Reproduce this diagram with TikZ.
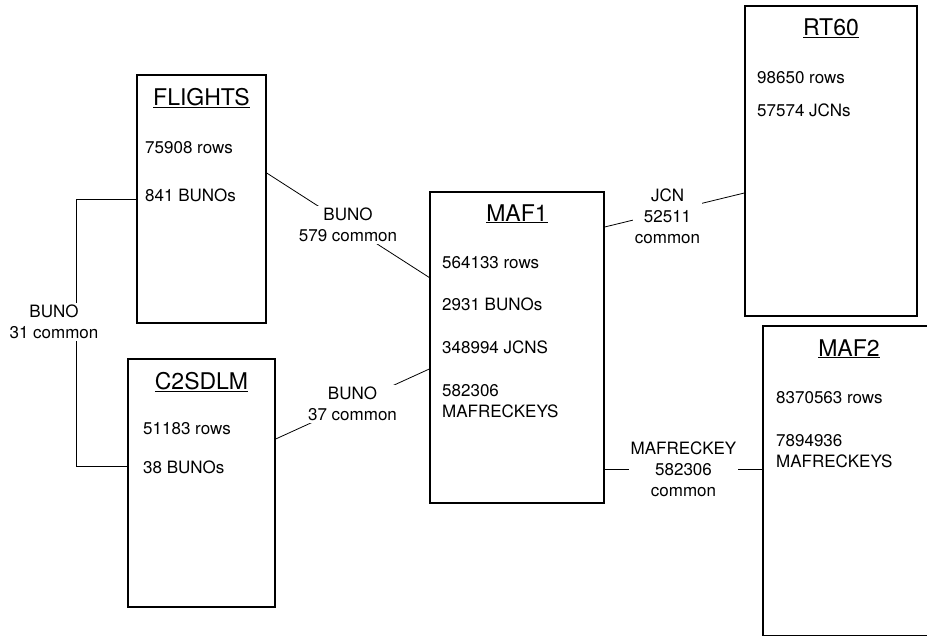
\documentclass[tikz,border=0pt]{standalone}
\usepackage{fontspec}
\setmainfont{TeX Gyre Heros}
\usetikzlibrary{positioning}

\begin{document}
\begin{tikzpicture}[
  x=1pt, y=-1pt,
  tbl/.style={draw, line width=1.4pt, inner sep=0pt, minimum width=#1},
  ttl/.style={font=\fontsize{23}{27}\selectfont, inner sep=0pt},
  txt/.style={font=\fontsize{17}{21}\selectfont, inner sep=0pt, anchor=base west},
  lbl/.style={font=\fontsize{17}{21}\selectfont, fill=white, align=center, inner sep=2pt},
  link/.style={line width=0.8pt}
]
\useasboundingbox (0,0) rectangle (927,635);
\clip (0,0) rectangle (927,635);
% tables
\node[tbl=129pt, minimum height=248pt] (flights) at (201.5,199) {};
\node[tbl=147pt, minimum height=248pt] (c2sdlm) at (201.5,483) {};
\node[tbl=174pt, minimum height=311pt] (maf1) at (517,347.5) {};
\node[tbl=172pt, minimum height=310pt] (rt60) at (831,161) {};
\node[tbl=200pt, minimum height=310pt] (maf2) at (863,481) {};
% titles
\node[ttl, below=14pt of flights.north] (flightsT) {\underline{FLIGHTS}};
\node[ttl, below=14pt of c2sdlm.north] (c2sdlmT) {\underline{C2SDLM}};
\node[ttl, below=13pt of maf1.north] (maf1T) {\underline{MAF1}};
\node[ttl, below=13pt of rt60.north] (rt60T) {\underline{RT60}};
\node[ttl, below=14pt of maf2.north, xshift=-14pt] (maf2T) {\underline{MAF2}};
% contents
\node[txt] (flightsR) at (145,153) {75908 rows};
\node[txt] (flightsB) at (145,201) {841 BUNOs};
\node[txt] (c2sdlmR) at (143,434) {51183 rows};
\node[txt] (c2sdlmB) at (143,473) {38 BUNOs};
\node[txt] (maf1R) at (442,268) {564133 rows};
\node[txt] (maf1B) at (442,310) {2931 BUNOs};
\node[txt] (maf1J) at (442,353) {348994 JCNS};
\node[txt] (maf1K) at (442,396) {582306};
\node[txt] (maf1Ks) at (442,417) {MAFRECKEYS};
\node[txt] (rt60R) at (757,83) {98650 rows};
\node[txt] (rt60J) at (757,116) {57574 JCNs};
\node[txt] (maf2R) at (776,403) {8370563 rows};
\node[txt] (maf2K) at (776,446) {7894936};
\node[txt] (maf2Ks) at (776,467) {MAFRECKEYS};
% joins
\draw[link] (flights.west) -- ++(-60,0) |- ([yshift=17pt]c2sdlm.west);
\node[lbl] (bunoFC) at (54,322) {BUNO\\31 common};
\draw[link] ([yshift=26pt]flights.east) -- node[lbl] (bunoFM) {BUNO\\579 common} ([yshift=70pt]maf1.west);
\draw[link] ([yshift=44pt]c2sdlm.east) -- node[lbl] (bunoCM) {BUNO\\37 common} ([yshift=-21.5pt]maf1.west);
\draw[link] ([yshift=120.5pt]maf1.east) -- node[lbl, pos=0.45, yshift=-5pt] (jcnMR) {JCN\\52511\\common} ([yshift=-32pt]rt60.west);
\draw[link] ([yshift=-121.5pt]maf1.east) -- node[lbl] (keyMM) {MAFRECKEY\\582306\\common} ([yshift=12pt]maf2.west);
\end{tikzpicture}
\end{document}
